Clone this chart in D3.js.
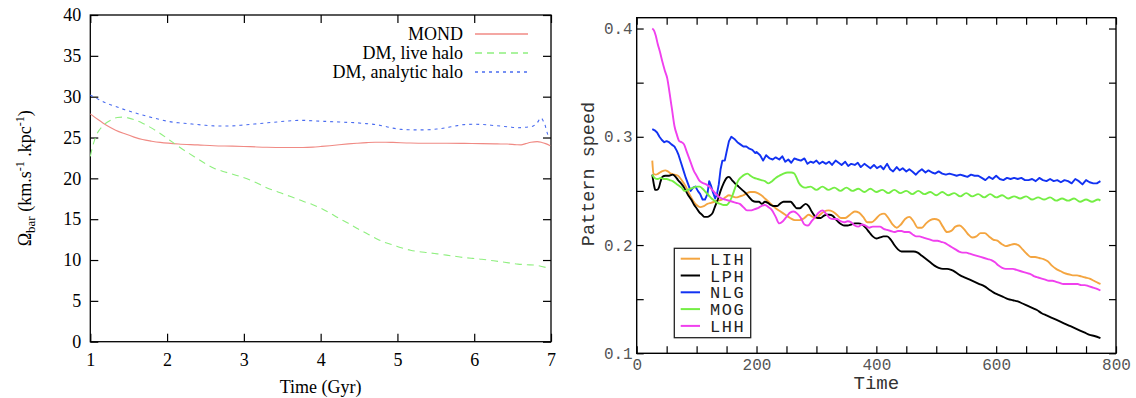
<!DOCTYPE html>
<html>
<head>
<meta charset="utf-8">
<script src="https://cdn.jsdelivr.net/npm/d3@7"></script>
<style>
  html, body { margin: 0; padding: 0; background: #fff; }
  svg { display: block; }
</style>
</head>
<body>
<svg id="chart" width="1136" height="398"></svg>
<script>
// ---------- Left panel: bar pattern speed vs time (Gyr) ----------
const leftXTicks = [1, 2, 3, 4, 5, 6, 7];
const leftYTicks = [0, 5, 10, 15, 20, 25, 30, 35, 40];
const leftSeriesNames = ["MOND", "DM, live halo", "DM, analytic halo"];

const mond = [[1,27.9],[1.1,27.2],[1.21,26.5],[1.33,25.9],[1.45,25.45],[1.57,25.05],[1.68,24.75],[1.8,24.55],[1.91,24.4],[2.15,24.2],[2.4,24.1],[2.61,24.0],[2.85,23.95],[3.08,23.88],[3.3,23.8],[3.54,23.77],[3.77,23.77],[3.9,23.82],[4.0,23.9],[4.12,24.0],[4.24,24.12],[4.36,24.22],[4.47,24.3],[4.6,24.38],[4.71,24.42],[4.85,24.42],[4.94,24.4],[5.17,24.32],[5.4,24.3],[5.64,24.3],[5.87,24.28],[6.1,24.25],[6.3,24.22],[6.43,24.2],[6.55,24.12],[6.61,24.1],[6.67,24.25],[6.74,24.42],[6.82,24.5],[6.88,24.4],[6.93,24.25],[6.99,24.0]];

const liveHalo = [[1,22.7],[1.03,23.9],[1.06,24.8],[1.09,25.5],[1.12,25.95],[1.16,26.4],[1.21,26.8],[1.28,27.2],[1.35,27.45],[1.42,27.5],[1.49,27.4],[1.58,27.15],[1.68,26.75],[1.8,26.15],[1.91,25.5],[2.03,24.7],[2.15,23.9],[2.27,23.15],[2.38,22.5],[2.5,21.8],[2.61,21.25],[2.73,20.85],[2.84,20.55],[2.96,20.2],[3.08,19.8],[3.2,19.3],[3.31,18.8],[3.43,18.4],[3.54,18.0],[3.66,17.6],[3.77,17.2],[3.89,16.8],[4.0,16.35],[4.12,15.75],[4.24,15.1],[4.36,14.5],[4.47,13.9],[4.59,13.3],[4.71,12.7],[4.82,12.2],[4.94,11.86],[5.05,11.5],[5.17,11.2],[5.28,11.02],[5.4,10.9],[5.52,10.75],[5.64,10.6],[5.75,10.45],[5.87,10.3],[5.98,10.2],[6.1,10.1],[6.22,9.95],[6.34,9.8],[6.45,9.65],[6.57,9.5],[6.68,9.43],[6.8,9.36],[6.94,9.07]];

const analyticHalo = [[1,30.2],[1.1,29.7],[1.21,29.2],[1.33,28.8],[1.45,28.4],[1.57,28.05],[1.68,27.75],[1.8,27.45],[1.91,27.2],[2.03,26.95],[2.15,26.8],[2.27,26.7],[2.38,26.6],[2.5,26.5],[2.61,26.42],[2.73,26.4],[2.84,26.42],[2.96,26.5],[3.08,26.6],[3.2,26.7],[3.31,26.8],[3.43,26.9],[3.54,27.0],[3.66,27.08],[3.77,27.1],[3.89,27.05],[4.0,27.0],[4.12,26.95],[4.24,26.9],[4.36,26.85],[4.47,26.8],[4.59,26.7],[4.71,26.6],[4.82,26.4],[4.94,26.15],[5.05,26.0],[5.17,25.95],[5.28,25.93],[5.4,25.95],[5.52,26.05],[5.64,26.2],[5.75,26.4],[5.87,26.58],[5.98,26.62],[6.1,26.6],[6.22,26.5],[6.34,26.4],[6.45,26.3],[6.57,26.2],[6.66,26.25],[6.75,26.35],[6.82,26.8],[6.87,27.4],[6.9,27.0],[6.92,26.6],[6.94,25.9],[6.96,25.3]];

// ---------- Right panel: pattern speed vs time ----------
const rightXTicks = [0, 50, 100, 150, 200, 250, 300, 350, 400, 450, 500, 550, 600, 650, 700, 750, 800];
const rightXLabels = [0, 200, 400, 600, 800];
const rightYTicks = [0.1, 0.15, 0.2, 0.25, 0.3, 0.35, 0.4];
const rightYLabels = [0.1, 0.2, 0.3, 0.4];
const rightSeriesNames = ["LIH", "LPH", "NLG", "MOG", "LHH"];

const LIH = [[26,0.278],[28,0.266],[32,0.265],[36,0.266],[42,0.268],[48,0.269],[52,0.268],[57,0.266],[63,0.265],[69,0.264],[75,0.260],[82,0.254],[88,0.247],[94,0.241],[100,0.237],[106,0.235],[112,0.236],[118,0.238],[124,0.239],[130,0.240],[136,0.241],[142,0.242],[148,0.244],[154,0.246],[160,0.245],[166,0.244],[172,0.245],[178,0.246],[184,0.248],[190,0.249],[196,0.249],[202,0.248],[208,0.246],[214,0.243],[220,0.240],[226,0.237],[232,0.234],[240,0.231],[248,0.228],[256,0.225],[264,0.223],[272,0.223],[280,0.225],[287,0.228],[294,0.226],[300,0.225],[306,0.228],[313,0.231],[320,0.232],[327,0.231],[334,0.228],[341,0.225],[348,0.225],[356,0.228],[364,0.231],[371,0.230],[378,0.226],[385,0.221],[392,0.221],[399,0.224],[406,0.228],[413,0.229],[420,0.225],[427,0.219],[434,0.216],[441,0.219],[448,0.224],[455,0.226],[462,0.222],[469,0.216],[476,0.216],[483,0.220],[490,0.223],[497,0.224],[504,0.223],[511,0.217],[518,0.212],[525,0.213],[532,0.217],[539,0.218],[546,0.215],[553,0.210],[560,0.207],[567,0.208],[574,0.211],[581,0.211],[588,0.208],[595,0.205],[602,0.204],[609,0.201],[616,0.199],[623,0.200],[630,0.201],[637,0.200],[644,0.196],[651,0.192],[658,0.189],[665,0.189],[672,0.188],[679,0.187],[686,0.185],[693,0.181],[700,0.178],[707,0.176],[714,0.174],[721,0.173],[728,0.172],[735,0.172],[742,0.171],[749,0.170],[756,0.169],[763,0.167],[770,0.165],[774,0.164]];

const LPH = [[26,0.265],[29,0.255],[31,0.251],[34,0.251],[37,0.253],[40,0.259],[43,0.263],[48,0.264],[54,0.264],[60,0.265],[65,0.263],[69,0.260],[74,0.257],[78,0.254],[82,0.250],[86,0.246],[91,0.242],[96,0.237],[100,0.234],[105,0.230],[109,0.228],[113,0.226],[118,0.226],[122,0.227],[127,0.230],[131,0.236],[136,0.243],[140,0.250],[145,0.257],[150,0.262],[154,0.263],[159,0.260],[164,0.257],[170,0.254],[176,0.251],[182,0.248],[188,0.244],[193,0.241],[199,0.240],[204,0.240],[209,0.238],[214,0.240],[219,0.239],[224,0.237],[229,0.236],[234,0.236],[239,0.238],[245,0.240],[251,0.240],[257,0.240],[262,0.237],[267,0.234],[272,0.234],[277,0.236],[282,0.238],[287,0.236],[292,0.231],[297,0.227],[302,0.225],[307,0.225],[312,0.227],[317,0.228],[322,0.228],[327,0.227],[332,0.224],[337,0.221],[342,0.219],[347,0.218],[352,0.218],[358,0.219],[364,0.220],[370,0.220],[376,0.219],[382,0.216],[388,0.212],[394,0.208],[400,0.206],[406,0.207],[412,0.208],[418,0.208],[424,0.205],[430,0.200],[436,0.196],[442,0.194],[448,0.194],[455,0.194],[462,0.194],[469,0.193],[476,0.190],[483,0.187],[490,0.184],[497,0.181],[504,0.179],[511,0.178],[518,0.178],[525,0.177],[532,0.175],[540,0.172],[548,0.170],[556,0.168],[564,0.166],[572,0.164],[580,0.162],[588,0.159],[596,0.156],[604,0.154],[612,0.152],[620,0.150],[628,0.149],[636,0.148],[644,0.146],[652,0.144],[660,0.142],[668,0.140],[676,0.137],[684,0.135],[692,0.133],[700,0.131],[708,0.129],[716,0.127],[724,0.125],[732,0.123],[740,0.121],[748,0.119],[756,0.117],[764,0.116],[774,0.114]];

const NLG = [[26,0.307],[30,0.306],[34,0.304],[38,0.300],[42,0.297],[46,0.295],[50,0.296],[54,0.295],[58,0.293],[63,0.291],[67,0.287],[70,0.283],[74,0.276],[78,0.269],[82,0.262],[86,0.256],[90,0.250],[94,0.253],[98,0.254],[102,0.250],[106,0.247],[110,0.242],[114,0.242],[118,0.247],[121,0.259],[124,0.255],[127,0.249],[131,0.243],[134,0.247],[137,0.256],[140,0.270],[143,0.278],[147,0.278],[150,0.286],[154,0.296],[158,0.300],[163,0.298],[168,0.295],[173,0.293],[178,0.291],[183,0.291],[188,0.289],[193,0.288],[198,0.285],[200,0.286],[206,0.283],[211,0.278],[216,0.283],[222,0.280],[227,0.279],[232,0.281],[238,0.279],[243,0.282],[248,0.277],[253,0.279],[258,0.276],[263,0.280],[268,0.279],[274,0.278],[280,0.280],[285,0.275],[290,0.277],[295,0.276],[300,0.278],[305,0.275],[310,0.277],[316,0.275],[321,0.277],[326,0.274],[332,0.278],[337,0.276],[342,0.274],[348,0.277],[353,0.273],[358,0.275],[364,0.274],[369,0.276],[374,0.272],[380,0.275],[385,0.273],[390,0.271],[396,0.274],[401,0.271],[407,0.273],[412,0.270],[418,0.275],[423,0.270],[428,0.268],[434,0.272],[439,0.269],[444,0.271],[450,0.268],[455,0.270],[460,0.268],[466,0.265],[471,0.268],[476,0.270],[482,0.267],[487,0.269],[493,0.267],[498,0.266],[504,0.268],[510,0.266],[516,0.265],[522,0.266],[528,0.265],[534,0.264],[540,0.265],[546,0.264],[552,0.263],[558,0.265],[564,0.264],[570,0.264],[576,0.262],[582,0.260],[588,0.263],[594,0.261],[600,0.264],[606,0.261],[612,0.260],[618,0.262],[624,0.261],[630,0.262],[636,0.261],[642,0.262],[648,0.260],[654,0.260],[660,0.261],[666,0.259],[672,0.262],[678,0.260],[684,0.259],[690,0.261],[696,0.259],[702,0.260],[708,0.258],[714,0.260],[720,0.259],[726,0.257],[732,0.261],[738,0.259],[744,0.256],[750,0.260],[756,0.258],[762,0.257],[768,0.257],[774,0.259]];

const MOG = [[26,0.265],[30,0.262],[35,0.261],[40,0.262],[45,0.261],[50,0.261],[55,0.260],[60,0.259],[65,0.257],[70,0.255],[75,0.253],[80,0.250],[85,0.251],[90,0.252],[95,0.253],[100,0.254],[105,0.254],[110,0.252],[115,0.249],[120,0.246],[125,0.243],[130,0.241],[135,0.239],[140,0.238],[145,0.237],[150,0.237],[155,0.240],[160,0.246],[165,0.254],[170,0.260],[175,0.263],[180,0.265],[185,0.266],[190,0.264],[196,0.262],[202,0.261],[208,0.260],[214,0.259],[220,0.257],[226,0.259],[232,0.262],[238,0.264],[245,0.266],[252,0.267],[258,0.267],[263,0.266],[267,0.262],[271,0.257],[276,0.254],[281,0.253],[290,0.254],[300,0.251],[310,0.254],[320,0.251],[330,0.253],[340,0.250],[350,0.253],[360,0.250],[370,0.252],[380,0.249],[390,0.252],[400,0.249],[410,0.251],[420,0.248],[430,0.251],[440,0.248],[450,0.250],[460,0.247],[470,0.250],[480,0.247],[490,0.249],[500,0.246],[510,0.249],[520,0.246],[530,0.248],[540,0.245],[550,0.248],[560,0.245],[570,0.247],[580,0.244],[590,0.247],[600,0.244],[610,0.246],[620,0.243],[630,0.245],[640,0.243],[650,0.245],[660,0.242],[670,0.244],[680,0.242],[690,0.244],[700,0.241],[710,0.243],[720,0.241],[730,0.243],[740,0.240],[750,0.242],[760,0.240],[770,0.242],[774,0.241]];

const LHH = [[26,0.400],[29,0.398],[32,0.393],[35,0.386],[39,0.378],[43,0.369],[47,0.361],[51,0.354],[55,0.340],[59,0.325],[63,0.310],[67,0.302],[71,0.296],[75,0.295],[79,0.293],[83,0.287],[87,0.281],[91,0.275],[95,0.269],[100,0.264],[104,0.260],[108,0.258],[112,0.257],[116,0.256],[121,0.254],[126,0.251],[131,0.248],[136,0.245],[142,0.243],[148,0.242],[154,0.241],[160,0.240],[166,0.239],[172,0.238],[178,0.235],[184,0.232],[190,0.232],[196,0.233],[202,0.234],[208,0.236],[214,0.237],[220,0.235],[226,0.232],[232,0.226],[238,0.220],[244,0.222],[250,0.226],[256,0.230],[262,0.231],[268,0.229],[274,0.225],[280,0.219],[286,0.218],[292,0.222],[298,0.226],[304,0.230],[310,0.232],[316,0.229],[322,0.225],[328,0.224],[334,0.224],[340,0.222],[346,0.221],[352,0.222],[358,0.221],[364,0.218],[370,0.217],[376,0.219],[382,0.218],[388,0.216],[394,0.217],[400,0.217],[406,0.217],[412,0.215],[418,0.214],[424,0.213],[430,0.212],[436,0.213],[442,0.213],[448,0.212],[454,0.212],[460,0.210],[466,0.208],[472,0.208],[478,0.207],[484,0.206],[490,0.205],[496,0.204],[502,0.204],[508,0.203],[514,0.202],[520,0.200],[526,0.198],[532,0.196],[538,0.194],[544,0.193],[550,0.193],[556,0.192],[562,0.191],[568,0.190],[574,0.189],[580,0.188],[586,0.187],[592,0.186],[598,0.184],[604,0.181],[610,0.179],[616,0.178],[622,0.178],[628,0.178],[634,0.177],[640,0.176],[646,0.175],[652,0.174],[658,0.173],[664,0.171],[670,0.170],[676,0.169],[682,0.168],[688,0.167],[694,0.167],[700,0.166],[706,0.165],[712,0.164],[718,0.164],[724,0.164],[730,0.164],[736,0.164],[742,0.163],[748,0.163],[754,0.162],[760,0.161],[766,0.160],[774,0.158]];

// ---------- drawing ----------
const svg = d3.select("#chart");
const SERIF = "'Liberation Serif', 'Times New Roman', serif";
const MONO = "'Liberation Mono', 'Courier New', monospace";

// ===== Left panel =====
const L = { x0: 90.3, x1: 551, y0: 15, y1: 341.7 };
const lx = d3.scaleLinear().domain([1, 7]).range([L.x0, L.x1]);
const ly = d3.scaleLinear().domain([0, 40]).range([L.y1, L.y0]);
const left = svg.append("g");

function styleAxis(g, font, size, color) {
  g.select(".domain").remove();
  g.selectAll(".tick line").attr("stroke", "#000").attr("stroke-width", 1.2);
  g.selectAll(".tick text").attr("font-family", font).attr("font-size", size).attr("fill", color);
}

left.append("g").attr("transform", `translate(0,${L.y1})`)
  .call(d3.axisBottom(lx).tickValues(leftXTicks).tickSize(-8).tickPadding(12).tickFormat(d3.format("d")))
  .call(g => styleAxis(g, SERIF, 18, "#000"));
left.append("g").attr("transform", `translate(0,${L.y0})`)
  .call(d3.axisTop(lx).tickValues(leftXTicks).tickSize(-8).tickFormat(""))
  .call(g => styleAxis(g, SERIF, 18, "#000"));
left.append("g").attr("transform", `translate(${L.x0},0)`)
  .call(d3.axisLeft(ly).tickValues(leftYTicks).tickSize(-8).tickPadding(9).tickFormat(d3.format("d")))
  .call(g => styleAxis(g, SERIF, 18, "#000"));
left.append("g").attr("transform", `translate(${L.x1},0)`)
  .call(d3.axisRight(ly).tickValues(leftYTicks).tickSize(-8).tickFormat(""))
  .call(g => styleAxis(g, SERIF, 18, "#000"));

left.append("rect").attr("x", L.x0).attr("y", L.y0)
  .attr("width", L.x1 - L.x0).attr("height", L.y1 - L.y0)
  .attr("fill", "none").attr("stroke", "#000").attr("stroke-width", 1.3);

const leftStyles = [
  { data: mond, color: "#f08a84", dash: null },
  { data: liveHalo, color: "#8fef7f", dash: "7,5" },
  { data: analyticHalo, color: "#4a6cf0", dash: "3,4" }
];
const lline = d3.line().x(d => lx(d[0])).y(d => ly(d[1])).curve(d3.curveMonotoneX);
leftStyles.forEach(s => {
  left.append("path").datum(s.data).attr("d", lline)
    .attr("fill", "none").attr("stroke", s.color).attr("stroke-width", 1.1)
    .attr("stroke-dasharray", s.dash);
});

// left legend
const lLegY = [34, 53, 72];
leftSeriesNames.forEach((name, i) => {
  left.append("text").attr("x", 463).attr("y", lLegY[i] + 6)
    .attr("text-anchor", "end").attr("font-family", SERIF).attr("font-size", 18)
    .text(name);
  left.append("line").attr("x1", 475).attr("x2", 528).attr("y1", lLegY[i]).attr("y2", lLegY[i])
    .attr("stroke", leftStyles[i].color).attr("stroke-width", 1.3)
    .attr("stroke-dasharray", leftStyles[i].dash);
});

// left axis titles
left.append("text").attr("x", (L.x0 + L.x1) / 2).attr("y", 393)
  .attr("text-anchor", "middle").attr("font-family", SERIF).attr("font-size", 18)
  .text("Time (Gyr)");
const yt = left.append("text")
  .attr("transform", `translate(31,${(L.y0 + L.y1) / 2}) rotate(-90)`)
  .attr("text-anchor", "middle").attr("font-family", SERIF).attr("font-size", 18);
yt.append("tspan").text("Ω");
yt.append("tspan").attr("font-size", 13).attr("dy", 4).text("bar");
yt.append("tspan").attr("dy", -4).text(" (km.s");
yt.append("tspan").attr("font-size", 12).attr("dy", -7).text("-1");
yt.append("tspan").attr("dy", 7).text(" .kpc");
yt.append("tspan").attr("font-size", 12).attr("dy", -7).text("-1");
yt.append("tspan").attr("dy", 7).text(")");

// ===== Right panel =====
const R = { x0: 636.7, x1: 1116, y0: 17.7, y1: 353.3 };
const rx = d3.scaleLinear().domain([0, 800]).range([R.x0, R.x1]);
const ry = d3.scaleLinear().domain([0.1, 0.41]).range([R.y1, R.y0]);
const right = svg.append("g");

right.append("g").attr("transform", `translate(0,${R.y1})`)
  .call(d3.axisBottom(rx).tickValues(rightXTicks).tickSize(-7).tickPadding(5)
    .tickFormat(d => rightXLabels.includes(d) ? String(d) : ""))
  .call(g => styleAxis(g, MONO, 16, "#555"));
right.append("g").attr("transform", `translate(0,${R.y0})`)
  .call(d3.axisTop(rx).tickValues(rightXTicks).tickSize(-7).tickFormat(""))
  .call(g => styleAxis(g, MONO, 16, "#555"));
right.append("g").attr("transform", `translate(${R.x0},0)`)
  .call(d3.axisLeft(ry).tickValues(rightYTicks).tickSize(-7).tickPadding(4)
    .tickFormat(d => rightYLabels.some(v => Math.abs(v - d) < 1e-9) ? d.toFixed(1) : ""))
  .call(g => styleAxis(g, MONO, 16, "#555"));
right.append("g").attr("transform", `translate(${R.x1},0)`)
  .call(d3.axisRight(ry).tickValues(rightYTicks).tickSize(-7).tickFormat(""))
  .call(g => styleAxis(g, MONO, 16, "#555"));

right.append("rect").attr("x", R.x0).attr("y", R.y0)
  .attr("width", R.x1 - R.x0).attr("height", R.y1 - R.y0)
  .attr("fill", "none").attr("stroke", "#000").attr("stroke-width", 1.4);

const rightStyles = [
  { data: LIH, color: "#f4a540", curve: d3.curveMonotoneX },
  { data: LPH, color: "#000000", curve: d3.curveMonotoneX },
  { data: NLG, color: "#1232f2", curve: d3.curveLinear },
  { data: MOG, color: "#74ee44", curve: d3.curveMonotoneX },
  { data: LHH, color: "#f040ee", curve: d3.curveMonotoneX }
];
rightStyles.forEach(s => {
  const line = d3.line().x(d => rx(d[0])).y(d => ry(d[1])).curve(s.curve);
  right.append("path").datum(s.data).attr("d", line)
    .attr("fill", "none").attr("stroke", s.color).attr("stroke-width", 1.9)
    .attr("stroke-linejoin", "round");
});

// right legend
const leg = right.append("g");
leg.append("rect").attr("x", 674.3).attr("y", 248.3).attr("width", 76.4).attr("height", 89.4)
  .attr("fill", "#fff").attr("stroke", "#222").attr("stroke-width", 1.3);
rightSeriesNames.forEach((name, i) => {
  const cy = 258.7 + i * 16.8;
  leg.append("line").attr("x1", 680.7).attr("x2", 700).attr("y1", cy).attr("y2", cy)
    .attr("stroke", rightStyles[i].color).attr("stroke-width", 2);
  leg.append("text").attr("x", 710).attr("y", cy + 6)
    .attr("font-family", MONO).attr("font-size", 17).attr("letter-spacing", 1.6)
    .attr("fill", "#222").text(name);
});

// right axis titles
right.append("text").attr("x", (R.x0 + R.x1) / 2).attr("y", 389)
  .attr("text-anchor", "middle").attr("font-family", MONO).attr("font-size", 19).attr("fill", "#333")
  .text("Time");
right.append("text").attr("transform", `translate(594,174) rotate(-90)`)
  .attr("text-anchor", "middle").attr("font-family", MONO).attr("font-size", 18.5).attr("fill", "#333")
  .text("Pattern speed");
</script>
</body>
</html>
